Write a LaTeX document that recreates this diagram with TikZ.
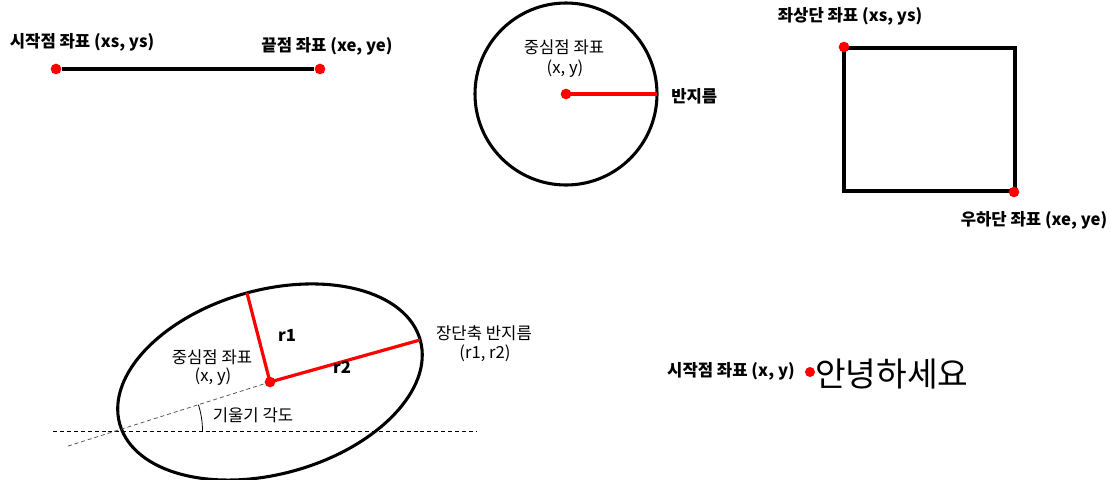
\documentclass[tikz,border=0pt]{standalone}
\usepackage{fontspec}
\setmainfont{Noto Sans CJK KR}
\begin{document}
\begin{tikzpicture}[x=0.75pt,y=-0.75pt,
  lbl/.style={inner sep=0pt,font=\fontsize{12.5pt}{14pt}\selectfont\bfseries},
  lblr/.style={inner sep=0pt,font=\fontsize{12.5pt}{14pt}\selectfont},
  dot/.style={circle,fill=red,inner sep=0pt,minimum size=8pt},
  blk/.style={line width=3pt,black},
  blkt/.style={line width=2.3pt,black},
  rline/.style={line width=2.4pt,red},
  dsh/.style={line width=0.75pt,dash pattern=on 3pt off 2.2pt}]
\useasboundingbox (0,0) rectangle (1118,479);
% line
\node[dot] (ls) at (56,69) {};
\node[dot] (le) at (320,69) {};
\draw[blk] (ls) -- (le);
\node[lbl] (lsl) at (82,42) {시작점 좌표 (xs, ys)};
\node[lbl] (lel) at (327,46) {끝점 좌표 (xe, ye)};
% circle
\coordinate (cc) at (566,94);
\draw[blkt] (cc) circle (91);
\coordinate (cr) at (657,94);
\draw[rline] (cc) -- (cr);
\node[dot] (cd) at (cc) {};
\node[lblr] (cl1) at (564,47) {중심점 좌표};
\node[lblr] (cl2) at (565,69) {(x, y)};
\node[lbl,anchor=west] (crl) at (671,96) {반지름};
% rectangle
\draw[blk] (844,48) rectangle (1015,191);
\node[dot] (rs) at (844,47) {};
\node[dot] (re) at (1014,192) {};
\node[lbl] (rsl) at (850,16) {좌상단 좌표 (xs, ys)};
\node[lbl] (rel) at (1034,220) {우하단 좌표 (xe, ye)};
% ellipse
\coordinate (ec) at (270,382);
\draw[blkt,rotate around={15.6:(ec)}] (ec) ellipse (156 and 92);
\coordinate (er1) at (247,293);
\coordinate (er2) at (420,340);
\coordinate (hl) at (53,431);
\coordinate (hr) at (477,431);
\coordinate (sl) at (65,447);
\draw[dsh] (hl) -- (hr);
\draw[dsh,gray!70!black,line width=0.6pt] (ec) -- (sl);
\coordinate (ap) at (115.5,431);
\draw[line width=0.6pt] (ap) ++(87,0) arc[start angle=0,end angle=-17.6,radius=87];
\draw[rline] (ec) -- (er1);
\draw[rline] (ec) -- (er2);
\node[dot] (ed) at (ec) {};
\node[lbl] (r1l) at (287,335) {r1};
\node[lbl] (r2l) at (342,367) {r2};
\node[lblr] (el1) at (212,357) {중심점 좌표};
\node[lblr] (el2) at (213,377) {(x, y)};
\node[lblr] (el3) at (484,333) {장단축 반지름};
\node[lblr] (el4) at (485,353) {(r1, r2)};
\node[lblr] (el5) at (253,415) {기울기 각도};
% text
\node[lbl] (tl) at (731,371) {시작점 좌표 (x, y)};
\node[dot,minimum size=7.5pt] (td) at (810,372) {};
\node[inner sep=0pt,anchor=west,font=\fontsize{25pt}{28pt}\selectfont] (tx) at (815,374) {안녕하세요};
\end{tikzpicture}
\end{document}
